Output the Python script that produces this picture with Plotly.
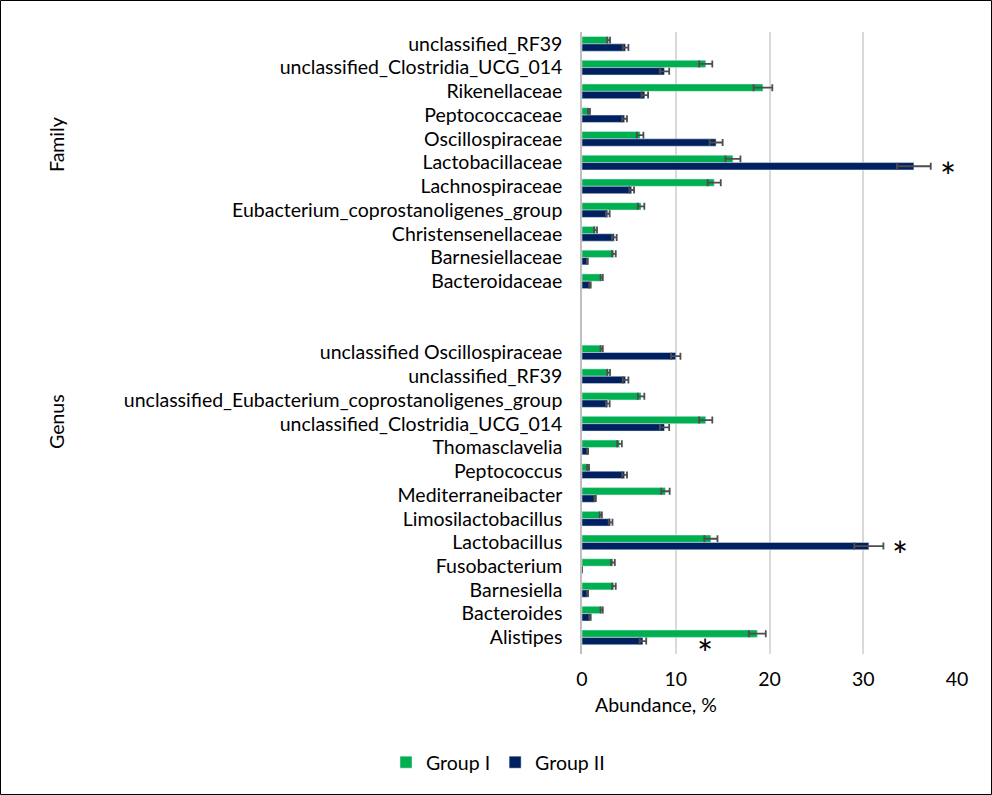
import plotly.graph_objects as go

family_labels = ["unclassified_RF39", "unclassified_Clostridia_UCG_014", "Rikenellaceae",
                 "Peptococcaceae", "Oscillospiraceae", "Lactobacillaceae", "Lachnospiraceae",
                 "Eubacterium_coprostanoligenes_group", "Christensenellaceae", "Barnesiellaceae",
                 "Bacteroidaceae"]
family_g1 = [2.84, 13.2, 19.3, 0.75, 6.2, 16.1, 14.1, 6.3, 1.45, 3.4, 2.1]
family_g1_err = [0.15, 0.7, 1.0, 0.1, 0.35, 0.8, 0.7, 0.35, 0.15, 0.2, 0.12]
family_g2 = [4.65, 8.8, 6.7, 4.55, 14.3, 35.4, 5.3, 2.75, 3.45, 0.57, 0.85]
family_g2_err = [0.3, 0.5, 0.35, 0.25, 0.7, 1.8, 0.25, 0.2, 0.25, 0.05, 0.08]

genus_labels = ["unclassified Oscillospiraceae", "unclassified_RF39",
                "unclassified_Eubacterium_coprostanoligenes_group", "unclassified_Clostridia_UCG_014",
                "Thomasclavelia", "Peptococcus", "Mediterraneibacter", "Limosilactobacillus",
                "Lactobacillus", "Fusobacterium", "Barnesiella", "Bacteroides", "Alistipes"]
genus_g1 = [2.1, 2.84, 6.3, 13.2, 4.0, 0.65, 8.9, 2.0, 13.75, 3.3, 3.4, 2.1, 18.7]
genus_g1_err = [0.12, 0.15, 0.35, 0.7, 0.25, 0.1, 0.45, 0.12, 0.7, 0.2, 0.2, 0.12, 0.9]
genus_g2 = [10.0, 4.65, 2.75, 8.8, 0.6, 4.55, 1.4, 3.05, 30.6, 0.0, 0.6, 0.85, 6.5]
genus_g2_err = [0.5, 0.3, 0.2, 0.5, 0.05, 0.25, 0.08, 0.2, 1.55, 0.0, 0.05, 0.08, 0.35]

x_ticks = [0, 10, 20, 30, 40]
sig_marks = [("Family", "Lactobacillaceae"), ("Genus", "Lactobacillus"), ("Genus", "Alistipes")]

GAP = 2
n_f = len(family_labels)
fam_pos = list(range(n_f))
gen_pos = [n_f + GAP + i for i in range(len(genus_labels))]
pos = fam_pos + gen_pos
labels = family_labels + genus_labels
g1 = family_g1 + genus_g1
g1e = family_g1_err + genus_g1_err
g2 = family_g2 + genus_g2
g2e = family_g2_err + genus_g2_err

FONT = "Lato"
FS = 19.5
err_style = dict(type="data", color="#4D4D4D", thickness=1.8, width=3.5)

fig = go.Figure()
fig.add_trace(go.Bar(y=pos, x=g1, orientation="h", name="Group I", marker_color="#00B050",
                     error_x=dict(array=g1e, **err_style)))
fig.add_trace(go.Bar(y=pos, x=g2, orientation="h", name="Group II", marker_color="#002060",
                     error_x=dict(array=g2e, **err_style)))

W, H = 992, 795
ml, mr, mt, mb = 582, 35, 32, 141
pw, ph = W - ml - mr, H - mt - mb
fig.update_layout(
    width=W, height=H, margin=dict(l=ml, r=mr, t=mt, b=mb),
    barmode="group", bargap=0.38, bargroupgap=0,
    plot_bgcolor="white", paper_bgcolor="white",
    font=dict(family=FONT, size=FS, color="#000000"),
    legend=dict(orientation="h", x=(498 - ml) / pw, xanchor="center",
                y=-(743 - (H - mb)) / ph, yanchor="top",
                font=dict(size=FS), traceorder="normal", itemwidth=30),
    showlegend=True,
)
y_hi = len(labels) + GAP - 0.3
fig.update_xaxes(range=[0, 40], tickvals=x_ticks, showgrid=True, gridcolor="#D9D9D9",
                 gridwidth=1.5, zeroline=False, showline=False, ticklabelstandoff=11,
                 tickfont=dict(size=FS))
fig.update_yaxes(tickvals=pos, ticktext=labels, range=[y_hi, -0.5],
                 showgrid=False, zeroline=False, showline=True, linecolor="#BFBFBF",
                 linewidth=1.5, ticks="", ticklabelstandoff=14, tickfont=dict(size=FS))

# titles
fig.add_annotation(text="Abundance, %", xref="paper", yref="paper",
                   x=(656 - ml) / pw, y=-(704 - (H - mb)) / ph,
                   xanchor="center", yanchor="middle", showarrow=False, font=dict(size=FS))
for txt, ypix in [("Family", 145), ("Genus", 422)]:
    fig.add_annotation(text=txt, xref="paper", yref="paper", x=-(ml - 57) / pw,
                       y=(H - mb - ypix) / ph,
                       textangle=-90, showarrow=False, xanchor="center", yanchor="middle",
                       font=dict(size=FS))

# significance asterisks
for grp, name in sig_marks:
    if grp == "Family":
        k = family_labels.index(name)
        i = fam_pos[k]
        xv = family_g2[k] + family_g2_err[k]
        fig.add_annotation(text="*", x=xv + 1.8, y=i + 0.55, showarrow=False,
                           font=dict(size=38), xanchor="center", yanchor="middle")
    else:
        k = genus_labels.index(name)
        i = gen_pos[k]
        if name == "Alistipes":
            fig.add_annotation(text="*", x=13.1, y=min(i + 0.65, y_hi), showarrow=False,
                               font=dict(size=38), xanchor="center", yanchor="middle")
        else:
            xv = genus_g2[k] + genus_g2_err[k]
            fig.add_annotation(text="*", x=xv + 1.75, y=i + 0.55, showarrow=False,
                               font=dict(size=38), xanchor="center", yanchor="middle")

# outer border
fig.add_shape(type="rect", xref="paper", yref="paper",
              x0=-(ml - 0.5) / pw, x1=(W - ml - 0.5) / pw,
              y0=-(mb - 0.5) / ph, y1=(H - mb - 0.5) / ph,
              line=dict(color="black", width=1))

fig.write_html("out.html")
